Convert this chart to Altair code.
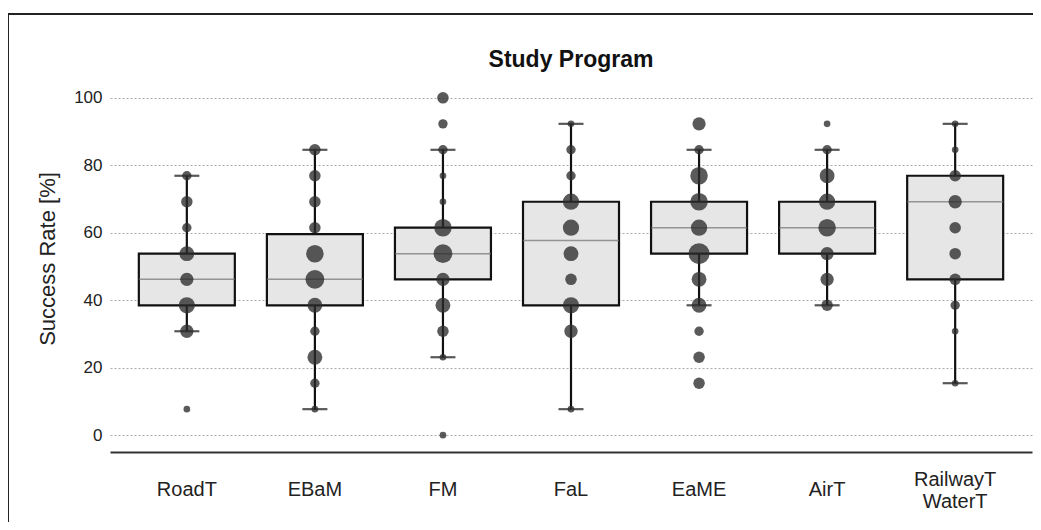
import altair as alt
import pandas as pd

programs = ["RoadT", "EBaM", "FM", "FaL", "EaME", "AirT", "RailwayT\nWaterT"]

# box statistics (success rate, %)
q1 = [38.5, 38.5, 46.2, 38.5, 53.8, 53.8, 46.2]
median = [46.2, 46.2, 53.8, 57.7, 61.5, 61.5, 69.2]
q3 = [53.8, 59.6, 61.5, 69.2, 69.2, 69.2, 76.9]
whisker_low = [30.8, 7.7, 23.1, 7.7, 38.5, 38.5, 15.4]
whisker_high = [76.9, 84.6, 84.6, 92.3, 84.6, 84.6, 92.3]

# individual observations: success rate and number of students at that rate
road_vals = [76.9, 69.2, 61.5, 53.8, 46.2, 38.5, 30.8, 7.7]
road_cnt = [2, 3, 2, 5, 4, 6, 4, 1]
ebam_vals = [84.6, 76.9, 69.2, 61.5, 53.8, 46.2, 38.5, 30.8, 23.1, 15.4, 7.7]
ebam_cnt = [3, 3, 3, 3, 7, 8, 5, 2, 5, 2, 1]
fm_vals = [100.0, 92.3, 84.6, 76.9, 69.2, 61.5, 53.8, 46.2, 38.5, 30.8, 23.1, 0.0]
fm_cnt = [3, 2, 2, 1, 1, 7, 8, 4, 5, 3, 1, 1]
fal_vals = [92.3, 84.6, 76.9, 69.2, 61.5, 53.8, 46.2, 38.5, 30.8, 7.7]
fal_cnt = [1, 2, 2, 6, 6, 5, 3, 6, 4, 1]
eame_vals = [92.3, 84.6, 76.9, 69.2, 61.5, 53.8, 46.2, 38.5, 30.8, 23.1, 15.4]
eame_cnt = [4, 2, 7, 7, 6, 10, 5, 5, 2, 3, 3]
air_vals = [92.3, 84.6, 76.9, 69.2, 61.5, 53.8, 46.2, 38.5]
air_cnt = [1, 2, 5, 6, 7, 4, 4, 3]
rail_vals = [92.3, 84.6, 76.9, 69.2, 61.5, 53.8, 46.2, 38.5, 30.8, 15.4]
rail_cnt = [1, 1, 3, 4, 3, 3, 3, 2, 1, 1]

y_ticks = [0, 20, 40, 60, 80, 100]

chart_title = "Study Program"
y_title = "Success Rate [%]"

FONT = "Liberation Sans"
W, H = 922, 371

box_df = pd.DataFrame({
    "program": programs, "q1": q1, "median": median, "q3": q3,
    "lo": whisker_low, "hi": whisker_high,
})

rows = []
for p, vals, cnts in zip(
    programs,
    [road_vals, ebam_vals, fm_vals, fal_vals, eame_vals, air_vals, rail_vals],
    [road_cnt, ebam_cnt, fm_cnt, fal_cnt, eame_cnt, air_cnt, rail_cnt],
):
    for v, c in zip(vals, cnts):
        rows.append({"program": p, "rate": v, "count": c})
pts_df = pd.DataFrame(rows)

x_enc = alt.X(
    "program:N", sort=programs, title=None,
    scale=alt.Scale(paddingInner=0, paddingOuter=0.1),
    axis=alt.Axis(
        labelAngle=0, ticks=False, tickSize=0, domain=True,
        domainColor="#333333", domainWidth=2,
        labelPadding={"condition": {"test": "length(datum.label) > 8", "value": 27},
                      "value": 37},
        labelBaseline="middle", labelFont=FONT, labelFontSize=20,
        labelColor="#222222", labelLineHeight=22,
        labelExpr="split(datum.label, '\\n')", grid=False,
    ),
)
y_scale = alt.Scale(domain=[-5, 105], nice=False, zero=False)

base_box = alt.Chart(box_df)

boxes = base_box.mark_bar(
    size=96, fill="#e6e6e6", stroke="#111111", strokeWidth=2.2
).encode(
    x=x_enc,
    y=alt.Y(
        "q1:Q", scale=y_scale, title=y_title,
        axis=alt.Axis(
            values=y_ticks, grid=True, gridDash=[2, 2], gridColor="#aaaaaa",
            gridWidth=1, domain=False, ticks=False, tickSize=0,
            labelPadding=8, labelFont=FONT, labelFontSize=17,
            labelColor="#222222", titleFont=FONT, titleFontSize=22,
            titleFontWeight="normal", titleColor="#222222",
            titleX=-63, titleY=H / 2 - 8, titleAngle=270,
            titleAlign="center", titleBaseline="middle",
        ),
    ),
    y2="q3:Q",
)

medians = base_box.mark_tick(
    size=96, thickness=1.6, color="#707070", orient="horizontal"
).encode(x=alt.X("program:N", sort=programs), y=alt.Y("median:Q", scale=y_scale))

whisk_lo = base_box.mark_rule(color="#111111", strokeWidth=2.2).encode(
    x=alt.X("program:N", sort=programs), y=alt.Y("lo:Q", scale=y_scale), y2="q1:Q"
)
whisk_hi = base_box.mark_rule(color="#111111", strokeWidth=2.2).encode(
    x=alt.X("program:N", sort=programs), y=alt.Y("q3:Q", scale=y_scale), y2="hi:Q"
)
cap_lo = base_box.mark_tick(
    size=25, thickness=2.2, color="#111111", orient="horizontal"
).encode(x=alt.X("program:N", sort=programs), y=alt.Y("lo:Q", scale=y_scale))
cap_hi = base_box.mark_tick(
    size=25, thickness=2.2, color="#111111", orient="horizontal"
).encode(x=alt.X("program:N", sort=programs), y=alt.Y("hi:Q", scale=y_scale))

points = alt.Chart(pts_df).mark_circle(color="#2b2b2b", opacity=0.78).encode(
    x=alt.X("program:N", sort=programs),
    y=alt.Y("rate:Q", scale=y_scale),
    size=alt.Size("count:Q", scale=alt.Scale(type="linear", domain=[0, 10], range=[0, 440]),
                  legend=None),
)

one = pd.DataFrame({"a": [0]})
title_mark = alt.Chart(one).mark_text(
    font=FONT, fontSize=23, fontWeight="bold", color="#111111",
    align="center", baseline="middle",
).encode(x=alt.value(W / 2), y=alt.value(-21), text=alt.value(chart_title))

frame_left = alt.Chart(one).mark_rule(color="#222222", strokeWidth=2).encode(
    x=alt.value(-102), y=alt.value(-67), y2=alt.value(520)
)
frame_top = alt.Chart(one).mark_rule(color="#222222", strokeWidth=2).encode(
    x=alt.value(-102), x2=alt.value(940), y=alt.value(-67)
)

chart = alt.layer(
    boxes, medians, whisk_lo, whisk_hi, cap_lo, cap_hi, points,
    title_mark, frame_left, frame_top
).properties(
    width=W, height=H, background="white",
    autosize=alt.AutoSizeParams(type="none"),
    padding={"left": 102, "top": 73, "right": 1, "bottom": 70},
).configure_view(stroke=None)

chart.save("out.html", embed_options={"renderer": "svg", "actions": False})
